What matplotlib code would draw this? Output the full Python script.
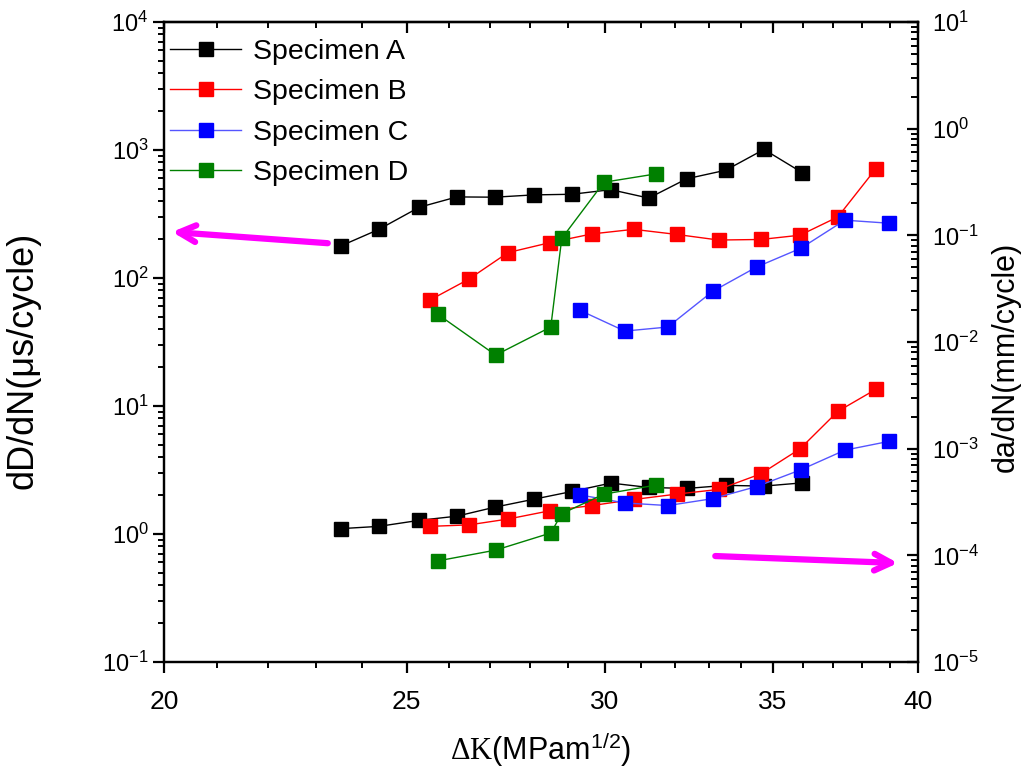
import matplotlib
matplotlib.use("Agg")
from matplotlib import pyplot as plt
from matplotlib.ticker import FixedLocator, FixedFormatter, NullFormatter, LogFormatterSciNotation
import numpy as np

plt.rcParams['font.family'] = ['Liberation Sans', 'DejaVu Sans']
plt.rcParams['mathtext.fontset'] = 'custom'
plt.rcParams['mathtext.rm'] = 'Liberation Serif'
plt.rcParams['mathtext.sf'] = 'Liberation Sans'

# dK (MPa m^1/2)
kA = [23.53, 24.37, 25.29, 26.18, 27.11, 28.10, 29.10, 30.16, 31.23, 32.34, 33.52, 34.72, 35.96]
kB = [25.54, 26.47, 27.44, 28.52, 29.64, 30.80, 32.04, 33.30, 34.62, 35.89, 37.16, 38.48]
kC = [29.31, 30.55, 31.78, 33.12, 34.49, 35.92, 37.40, 38.94]
kD = [25.73, 27.13, 28.54, 28.83, 29.97, 31.43]

# dD/dN (us/cycle), left axis
dDA = [178, 240, 357, 430, 428, 446, 451, 490, 421, 596, 695, 1010, 666]
dDB = [67.3, 98, 158, 189, 221, 240, 219, 198, 200, 216, 300, 714]
dDC = [56, 38.5, 41.4, 78.7, 122, 171, 283, 268]
dDD = [51.9, 25.0, 41.4, 204, 560, 650]

# da/dN (mm/cycle), right axis
daA = [1.78e-4, 1.87e-4, 2.13e-4, 2.33e-4, 2.83e-4, 3.36e-4, 3.97e-4, 4.76e-4, 4.33e-4, 4.24e-4, 4.53e-4, 4.46e-4, 4.78e-4]
daB = [1.87e-4, 1.93e-4, 2.19e-4, 2.62e-4, 2.93e-4, 3.34e-4, 3.75e-4, 4.15e-4, 5.81e-4, 9.97e-4, 2.24e-3, 3.60e-3]
daC = [3.69e-4, 3.10e-4, 2.93e-4, 3.40e-4, 4.42e-4, 6.35e-4, 9.69e-4, 1.17e-3]
daD = [8.88e-5, 1.12e-4, 1.62e-4, 2.46e-4, 3.75e-4, 4.55e-4]

names = ['Specimen A', 'Specimen B', 'Specimen C', 'Specimen D']
colors = ['#000000', '#ff0000', '#0000ff', '#008000']
linecolors = ['#000000', '#ff0000', '#5555ff', '#008000']

fig = plt.figure(figsize=(10.21, 7.69), dpi=100)
ax = fig.add_axes([0.1606, 0.1391, 0.7385, 0.8323])
ax2 = ax.twinx()

ks = [kA, kB, kC, kD]
dDs = [dDA, dDB, dDC, dDD]
das = [daA, daB, daC, daD]
for k, d1, d2, name, c, lc in zip(ks, dDs, das, names, colors, linecolors):
    ax.plot(k, d1, '-s', color=lc, mfc=c, mec=c, ms=10, lw=1, label=name)
    ax2.plot(k, d2, '-s', color=lc, mfc=c, mec=c, ms=10, lw=1)

ax.set_xscale('log')
ax.set_yscale('log')
ax2.set_yscale('log')
ax.set_xlim(20, 40)
ax.set_ylim(1e-1, 1e4)
ax2.set_ylim(1e-5, 1e1)

xmaj = [20, 25, 30, 35, 40]
xmin = [v for v in range(21, 40) if v not in xmaj]
ax.xaxis.set_major_locator(FixedLocator(xmaj))
ax.xaxis.set_major_formatter(FixedFormatter([str(v) for v in xmaj]))
ax.xaxis.set_minor_locator(FixedLocator(xmin))
ax.xaxis.set_minor_formatter(NullFormatter())

for a, lo, hi in ((ax, -1, 4), (ax2, -5, 1)):
    dec = 10.0 ** np.arange(lo, hi + 1)
    a.yaxis.set_major_locator(FixedLocator(dec))
    a.yaxis.set_major_formatter(LogFormatterSciNotation())
    a.yaxis.set_minor_locator(FixedLocator(np.outer(dec[:-1], np.arange(2, 10)).ravel()))
    a.yaxis.set_minor_formatter(NullFormatter())
    for s in a.spines.values():
        s.set_linewidth(1.6)

ax.tick_params(axis='x', which='major', direction='out', length=8, width=1.6, labelsize=19, pad=12)
ax.tick_params(axis='x', which='minor', direction='out', length=4.5, width=1.4)
ax.tick_params(axis='y', which='major', direction='out', length=8, width=1.6, labelsize=17, pad=3)
ax.tick_params(axis='y', which='minor', direction='out', length=4.5, width=1.4)
ax2.tick_params(axis='y', which='major', direction='in', length=8, width=1.6, labelsize=17, pad=10,
                left=False, right=True)
ax2.tick_params(axis='y', which='minor', direction='in', length=5, width=1.4,
                left=False, right=True)

top = ax.secondary_xaxis('top')
top.xaxis.set_major_locator(FixedLocator(xmaj))
top.xaxis.set_minor_locator(FixedLocator(xmin))
top.xaxis.set_major_formatter(NullFormatter())
top.xaxis.set_minor_formatter(NullFormatter())
top.tick_params(axis='x', which='major', direction='in', length=8, width=1.6)
top.tick_params(axis='x', which='minor', direction='in', length=4.5, width=1.4)
top.spines['top'].set_linewidth(1.6)

ax.set_xlabel(r'$\Delta\mathrm{K}$(MPam$^{\mathsf{1/2}}$)', fontsize=22, labelpad=12)
ax.set_ylabel('dD/dN(μs/cycle)', fontsize=26)
ax.yaxis.set_label_coords(-0.164, 0.472)
ax2.set_ylabel('da/dN(mm/cycle)', fontsize=22)
ax2.yaxis.set_label_coords(1.097, 0.477)

ax.legend(loc='upper left', bbox_to_anchor=(-0.0146, 1.0), fontsize=20.5, frameon=False,
          handlelength=2.5, handletextpad=0.4, labelspacing=0.5, borderaxespad=0.4, borderpad=0.2)

arrow = dict(arrowstyle='->,head_length=1.2,head_width=0.6', color='#ff00ff', lw=4.5,
             shrinkA=0, shrinkB=0)
ax.annotate('', xy=(20.15, 229), xytext=(23.25, 187), arrowprops=arrow)
ax.annotate('', xy=(39.27, 0.593), xytext=(33.2, 0.673), arrowprops=arrow)

fig.savefig('out.png', dpi=100)
